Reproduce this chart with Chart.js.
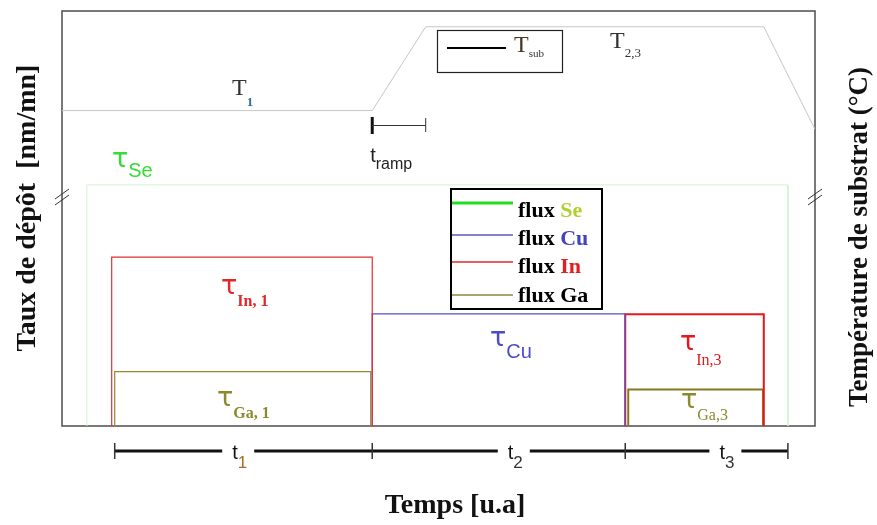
<!DOCTYPE html>
<html>
<head>
<meta charset="utf-8">
<script src="https://cdn.jsdelivr.net/npm/chart.js@4.4.1/dist/chart.umd.min.js"></script>
<style>
  body { margin: 0; background: #fff; }
</style>
</head>
<body>
<canvas id="myChart" width="877" height="525"></canvas>
<script>
// flux steps (arbitrary time / rate units)
var fluxLabels = ["Se", "In,1", "Ga,1", "Cu", "In,3", "Ga,3"];
var fluxStart = [3.3, 6.6, 7.0, 41.2, 74.8, 75.2];
var fluxEnd = [96.4, 41.2, 41.0, 74.8, 93.2, 93.1];
var fluxLevel = [58.1, 40.7, 13.1, 27.0, 26.9, 8.8];

// substrate temperature profile
var tempTime = [0, 41.2, 48.3, 93.2, 100];
var tempValue = [76.0, 76.0, 96.2, 96.2, 71.5];

// process phases t1, t2, t3
var phaseLabels = ["1", "2", "3"];
var phaseEdges = [7.0, 41.2, 74.8, 96.4];
var rampStart = 41.2;
var rampEnd = 48.3;

var fluxColors = ["#d2f0d2", "#e03030", "#8f8a34", "#5252c8", "#e8161b", "#85781e"];
var fluxWidths = [1, 1.2, 1.2, 1.2, 2, 2];

var datasets = [];
for (var i = 0; i < fluxLabels.length; i++) {
  datasets.push({
    label: fluxLabels[i],
    data: [
      { x: fluxStart[i], y: 0 },
      { x: fluxStart[i], y: fluxLevel[i] },
      { x: fluxEnd[i], y: fluxLevel[i] },
      { x: fluxEnd[i], y: 0 }
    ],
    borderColor: fluxColors[i],
    borderWidth: fluxWidths[i],
    order: i == 0 ? 10 : i
  });
}
datasets.push({
  label: "Tsub",
  data: tempTime.map(function (t, k) { return { x: t, y: tempValue[k] }; }),
  borderColor: "#c6c6c6",
  borderWidth: 1,
  order: 11
});

var SERIF = '"Liberation Serif", "DejaVu Serif", serif';
var SANS = '"Liberation Sans", Arial, sans-serif';

function withSub(ctx, x, y, main, mainFont, mainColor, sub, subFont, subColor, dy) {
  ctx.font = mainFont;
  ctx.fillStyle = mainColor;
  ctx.fillText(main, x, y);
  var w = ctx.measureText(main).width;
  ctx.font = subFont;
  ctx.fillStyle = subColor;
  ctx.fillText(sub, x + w, y + dy);
}

var schemaPlugin = {
  id: "schema",
  beforeDatasetsDraw: function (chart) {
    var ctx = chart.ctx, a = chart.chartArea;
    ctx.save();
    ctx.strokeStyle = "#4d4d4d";
    ctx.lineWidth = 1.5;
    ctx.strokeRect(a.left, a.top, a.right - a.left, a.bottom - a.top);
    ctx.restore();
  },
  afterDatasetsDraw: function (chart) {
    var ctx = chart.ctx, a = chart.chartArea;
    var xs = chart.scales.x, ys = chart.scales.y;
    ctx.save();
    ctx.textAlign = "left";
    ctx.textBaseline = "alphabetic";

    // axis breaks
    ctx.strokeStyle = "#333";
    ctx.lineWidth = 1;
    [a.left, a.right].forEach(function (bx) {
      ctx.beginPath();
      ctx.moveTo(bx - 7, 199); ctx.lineTo(bx + 7, 189);
      ctx.moveTo(bx - 7, 205); ctx.lineTo(bx + 7, 195);
      ctx.stroke();
    });

    // ramp bracket
    var r0 = xs.getPixelForValue(rampStart), r1 = xs.getPixelForValue(rampEnd);
    var ry = 125.5;
    ctx.strokeStyle = "#111";
    ctx.lineWidth = 3;
    ctx.beginPath(); ctx.moveTo(r0, 117); ctx.lineTo(r0, 134); ctx.stroke();
    ctx.lineWidth = 1;
    ctx.strokeStyle = "#333";
    ctx.beginPath();
    ctx.moveTo(r0, ry); ctx.lineTo(r1, ry);
    ctx.moveTo(r1, 118); ctx.lineTo(r1, 132);
    ctx.stroke();
    withSub(ctx, r0 - 2, 162, "t", "20px " + SANS, "#222", "ramp", "16px " + SANS, "#222", 7);

    // temperature labels
    withSub(ctx, 232, 95, "T", "24px " + SERIF, "#333", "1", "bold 13px " + SERIF, "#2a6aa0", 11);
    withSub(ctx, 610, 48, "T", "24px " + SERIF, "#333", "2,3", "13px " + SERIF, "#333", 9);

    // Tsub legend
    ctx.strokeStyle = "#222";
    ctx.lineWidth = 1.2;
    ctx.strokeRect(437.5, 30.5, 125, 42);
    ctx.lineWidth = 2;
    ctx.strokeStyle = "#000";
    ctx.beginPath(); ctx.moveTo(447, 48); ctx.lineTo(506, 48); ctx.stroke();
    withSub(ctx, 514, 52, "T", "24px " + SERIF, "#4a3520", "sub", "11px " + SERIF, "#333", 5);

    // flux labels
    var tau = "\u03c4";
    var TAU = '27px "DejaVu Sans", sans-serif';
    withSub(ctx, 112, 167, tau, TAU, "#33dd33", "Se", "20px " + SANS, "#33dd33", 10);
    withSub(ctx, 221, 294, tau, TAU, "#e02828", "In, 1", "bold 16px " + SERIF, "#e02828", 12);
    withSub(ctx, 217, 406, tau, TAU, "#8b8a2e", "Ga, 1", "bold 16px " + SERIF, "#8b8a2e", 12);
    withSub(ctx, 490, 346, tau, TAU, "#4c4cc8", "Cu", "20px " + SANS, "#4c4cc8", 12);
    withSub(ctx, 680, 350, tau, TAU, "#e8161b", "In,3", "16px " + SERIF, "#e8161b", 15);
    withSub(ctx, 681, 408, tau, TAU, "#8b8a2e", "Ga,3", "16px " + SERIF, "#8b8a2e", 12);

    // flux legend
    ctx.fillStyle = "#fff";
    ctx.fillRect(451, 189, 151, 120);
    ctx.strokeStyle = "#000";
    ctx.lineWidth = 2;
    ctx.strokeRect(451, 189, 151, 120);
    var legNames = ["Se", "Cu", "In", "Ga"];
    var legLine = ["#22dd22", "#5a5ac0", "#e02a2a", "#8a8a3a"];
    var legText = ["#b0d030", "#4444bb", "#e02020", "#000"];
    var legLineW = [3, 1.5, 1.5, 1.5];
    var legLineY = [203, 235, 262, 295];
    var legTextY = [217, 245, 273, 302];
    for (var k = 0; k < 4; k++) {
      ctx.strokeStyle = legLine[k];
      ctx.lineWidth = legLineW[k];
      ctx.beginPath(); ctx.moveTo(452, legLineY[k]); ctx.lineTo(513, legLineY[k]); ctx.stroke();
      ctx.font = "bold 22px " + SERIF;
      ctx.fillStyle = "#000";
      ctx.fillText("flux ", 518, legTextY[k]);
      var fw = ctx.measureText("flux ").width;
      ctx.fillStyle = legText[k];
      ctx.fillText(legNames[k], 518 + fw, legTextY[k]);
    }

    // time bar
    var barY = 451;
    var labelAt = [23.4, 60.0, 88.1];
    var subCol = ["#b06a20", "#333", "#333"];
    ctx.strokeStyle = "#111";
    for (var p = 0; p < phaseLabels.length; p++) {
      var x0 = xs.getPixelForValue(phaseEdges[p]);
      var x1 = xs.getPixelForValue(phaseEdges[p + 1]);
      var lc = xs.getPixelForValue(labelAt[p]);
      ctx.lineWidth = 3;
      ctx.beginPath();
      ctx.moveTo(x0, barY); ctx.lineTo(lc - 16, barY);
      ctx.moveTo(lc + 16, barY); ctx.lineTo(x1, barY);
      ctx.stroke();
      withSub(ctx, lc - 6, 459, "t", "20px " + SANS, "#111", phaseLabels[p], "17px " + SANS, subCol[p], 9);
    }
    ctx.lineWidth = 1.5;
    ctx.strokeStyle = "#333";
    phaseEdges.forEach(function (e) {
      var ex = xs.getPixelForValue(e);
      ctx.beginPath(); ctx.moveTo(ex, 443); ctx.lineTo(ex, 459); ctx.stroke();
    });

    // axis titles
    ctx.fillStyle = "#111";
    ctx.font = "bold 28px " + SERIF;
    ctx.textAlign = "center";
    ctx.fillText("Temps [u.a]", 455, 513);
    ctx.textBaseline = "middle";
    ctx.save();
    ctx.translate(28, 208);
    ctx.rotate(-Math.PI / 2);
    ctx.fillText("Taux de d\u00e9p\u00f4t  [nm/mn]", 0, 0);
    ctx.restore();
    ctx.save();
    ctx.translate(860, 237);
    ctx.rotate(-Math.PI / 2);
    ctx.font = "bold 27px " + SERIF;
    ctx.fillText("Temp\u00e9rature de substrat (\u00b0C)", 0, 0);
    ctx.restore();

    ctx.restore();
  }
};

var ctx = document.getElementById("myChart").getContext("2d");
var myChart = new Chart(ctx, {
  type: "line",
  data: { datasets: datasets },
  options: {
    responsive: false,
    animation: false,
    layout: { padding: { left: 62, right: 62, top: 11, bottom: 99 } },
    elements: {
      point: { radius: 0, hoverRadius: 0 },
      line: { tension: 0, fill: false }
    },
    scales: {
      x: { type: "linear", min: 0, max: 100, display: false },
      y: { type: "linear", min: 0, max: 100, display: false }
    },
    plugins: {
      legend: { display: false },
      tooltip: { enabled: false }
    }
  },
  plugins: [schemaPlugin]
});
</script>
</body>
</html>
